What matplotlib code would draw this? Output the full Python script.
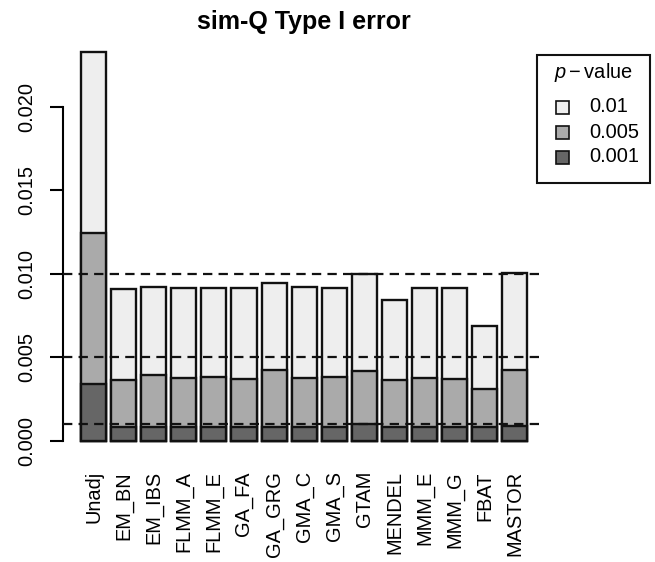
import numpy as np
import matplotlib
matplotlib.use("Agg")
import matplotlib.pyplot as plt
from matplotlib.patches import Rectangle

plt.rcParams['font.family'] = ['Liberation Sans', 'DejaVu Sans']
plt.rcParams['mathtext.fontset'] = 'custom'
plt.rcParams['mathtext.rm'] = 'Liberation Sans'
plt.rcParams['mathtext.it'] = 'Liberation Sans:italic'

# ================================================================================
# Type I error rates per method, at three significance levels
methods = ["Unadj", "EM_BN", "EM_IBS", "FLMM_A", "FLMM_E", "GA_FA", "GA_GRG",
           "GMA_C", "GMA_S", "GTAM", "MENDEL", "MMM_E", "MMM_G", "FBAT", "MASTOR"]

err_p01 = [0.0233, 0.00908, 0.00918, 0.00912, 0.00912, 0.00912, 0.00944,
           0.00922, 0.00912, 0.00996, 0.00844, 0.00912, 0.00912, 0.00689, 0.01004]
err_p005 = [0.01244, 0.00365, 0.00391, 0.00377, 0.00383, 0.00371, 0.00421,
            0.00377, 0.00383, 0.00415, 0.00361, 0.00377, 0.00371, 0.00310, 0.00421]
err_p001 = [0.0034, 0.0008, 0.0008, 0.0008, 0.0008, 0.0008, 0.0008,
            0.0008, 0.0008, 0.00098, 0.0008, 0.0008, 0.0008, 0.0008, 0.0009]

levels = [0.01, 0.005, 0.001]
level_labels = ["0.01", "0.005", "0.001"]
fills = ["#EEEEEE", "#AAAAAA", "#666666"]

# ================================================================================
W, H = 655, 562
fig = plt.figure(figsize=(W / 100, H / 100), dpi=100)
ax = fig.add_axes([63.2 / W, 1 - 456.3 / H, (545.1 - 63.2) / W, (456.3 - 36.1) / H])

edge = "#111111"
x_pos = 0.7 + 1.2 * np.arange(len(methods))
for vals, col in zip([err_p01, err_p005, err_p001], fills):
    ax.bar(x_pos, vals, width=1.0, color=col, edgecolor=edge, linewidth=1.7, zorder=2)

for lv in levels:
    ax.axhline(lv, color=edge, linewidth=1.6, linestyle=(0, (4.2, 2.8)), zorder=3)

ymax = max(err_p01)
ax.set_ylim(-0.04 * ymax, 1.04 * ymax)
ax.set_xlim(0.2 - 0.04 * 17.8, 18.0 + 0.04 * 17.8)

for side in ["top", "right", "bottom"]:
    ax.spines[side].set_visible(False)
ax.spines["left"].set_bounds(0, 0.02)
ax.spines["left"].set_linewidth(1.5)

yt = [0, 0.005, 0.01, 0.015, 0.02]
ax.set_yticks(yt)
ax.set_yticklabels(["%.3f" % v for v in yt], rotation=90, va="center", fontsize=14.4)
ax.tick_params(axis="y", length=9.5, width=1.5, pad=10)

ax.set_xticks(x_pos)
ax.set_xticklabels(methods, rotation=90, fontsize=14.4)
ax.tick_params(axis="x", length=0, pad=10.6)

fig.text(304 / W, 1 - 22 / H, "sim-Q Type I error", ha="center", va="center",
         fontsize=18, fontweight="bold")

# ================================================================================
# legend box, drawn in figure pixels
def px(x, y):
    return x / W, 1 - y / H

fig.add_artist(Rectangle(px(537, 183), 113 / W, 128 / H, transform=fig.transFigure,
                         facecolor="white", edgecolor=edge, linewidth=1.5))
fig.text(*px(593.5, 72), r"$p-\mathrm{value}$", ha="center", va="center", fontsize=14.4)
for i, (lab, col) in enumerate(zip(level_labels, fills)):
    yc = 107 + 25 * i
    fig.add_artist(Rectangle(px(556, yc + 6.5), 13 / W, 13 / H, transform=fig.transFigure,
                             facecolor=col, edgecolor=edge, linewidth=1.2))
    fig.text(*px(589, yc), lab, ha="left", va="center", fontsize=14.4)

fig.savefig("out.png", dpi=100)
